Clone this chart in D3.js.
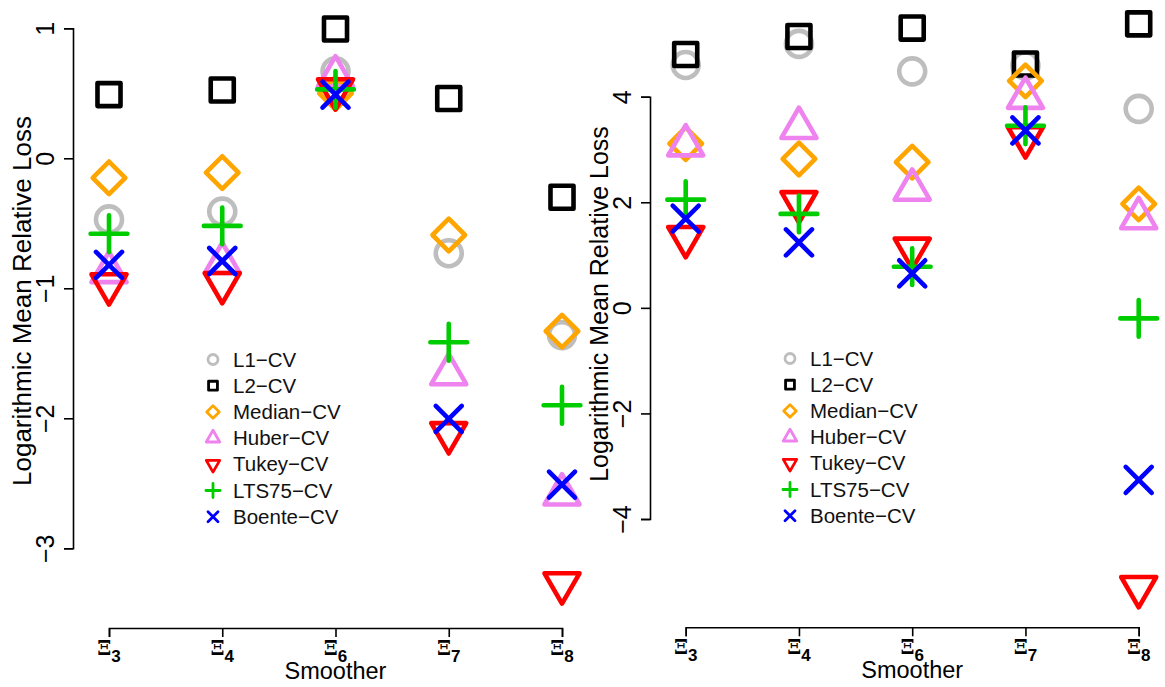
<!DOCTYPE html>
<html>
<head>
<meta charset="utf-8">
<script src="https://cdn.jsdelivr.net/npm/d3@7"></script>
<style>
  body { margin: 0; background: #fff; }
  svg { display: block; font-family: "Liberation Sans", Arial, Helvetica, sans-serif; }
</style>
</head>
<body>
<svg id="chart" width="1165" height="687"></svg>
<script>
// smoothers on the x axis (subscript of Xi)
var smoothers = ["3", "4", "6", "7", "8"];

// methods, drawn in this order
var methods = ["L1\u2212CV", "L2\u2212CV", "Median\u2212CV", "Huber\u2212CV", "Tukey\u2212CV", "LTS75\u2212CV", "Boente\u2212CV"];
var shapes  = ["circle", "square", "diamond", "triangle", "triangleDown", "plus", "cross"];
var colors  = ["#bebebe", "#000000", "#ffa500", "#ee82ee", "#ff0000", "#00cd00", "#0000ff"];

// left panel values, one array per method
var leftL1     = [-0.47, -0.41, 0.67, -0.73, -1.36];
var leftL2     = [0.49, 0.525, 0.995, 0.46, -0.30];
var leftMedian = [-0.15, -0.11, 0.50, -0.59, -1.33];
var leftHuber  = [-0.875, -0.805, 0.63, -1.66, -2.585];
var leftTukey  = [-0.97, -0.96, 0.53, -2.115, -3.27];
var leftLTS    = [-0.58, -0.52, 0.53, -1.415, -1.90];
var leftBoente = [-0.82, -0.79, 0.49, -2.005, -2.51];
var leftTicks  = [1, 0, -1, -2, -3];

// right panel values
var rightL1     = [4.60, 5.00, 4.48, 4.59, 3.77];
var rightL2     = [4.80, 5.14, 5.30, 4.62, 5.38];
var rightMedian = [3.11, 2.82, 2.76, 4.30, 1.97];
var rightHuber  = [3.08, 3.41, 2.24, 3.98, 1.70];
var rightTukey  = [1.34, 2.00, 1.12, 3.23, -5.29];
var rightLTS    = [2.05, 1.78, 0.78, 3.45, -0.20];
var rightBoente = [1.69, 1.24, 0.655, 3.36, -3.26];
var rightTicks  = [4, 2, 0, -2, -4];

var svg = d3.select("#chart");

// R-like point symbols, R = radius of the circle
function symbolPath(type, R) {
  var p = d3.path();
  if (type === "square") {
    var s = 0.886 * R;
    p.rect(-s, -s, 2 * s, 2 * s);
  } else if (type === "diamond") {
    var d = 1.2533 * R;
    p.moveTo(0, -d); p.lineTo(d, 0); p.lineTo(0, d); p.lineTo(-d, 0); p.closePath();
  } else if (type === "triangle" || type === "triangleDown") {
    var r = 1.5551 * R, xc = 1.3468 * R, yc = 0.7776 * R,
        k = type === "triangle" ? 1 : -1;
    p.moveTo(0, -k * r); p.lineTo(xc, k * yc); p.lineTo(-xc, k * yc); p.closePath();
  } else if (type === "plus") {
    var a = 1.4142 * R;
    p.moveTo(-a, 0); p.lineTo(a, 0); p.moveTo(0, -a); p.lineTo(0, a);
  } else if (type === "cross") {
    p.moveTo(-R, -R); p.lineTo(R, R); p.moveTo(-R, R); p.lineTo(R, -R);
  } else {
    p.arc(0, 0, R, 0, 2 * Math.PI);
  }
  return p.toString();
}

function drawPanel(opt) {
  var g = svg.append("g");

  var x = d3.scalePoint().domain(smoothers).range(opt.xRange);
  var y = d3.scaleLinear().domain(opt.yDomain).range(opt.yRange);

  // y axis
  var yAxis = g.append("g")
      .attr("transform", "translate(" + opt.axisX + ",0)")
      .call(d3.axisLeft(y).tickValues(opt.ticks).tickSizeOuter(0).tickSize(9)
              .tickFormat(function(d) { return d < 0 ? "\u2212" + (-d) : d; }));
  yAxis.select(".domain").attr("stroke", "#000").attr("stroke-width", 1.6);
  yAxis.selectAll(".tick line").attr("stroke", "#000").attr("stroke-width", 1.6);
  yAxis.selectAll(".tick text")
      .attr("transform", "rotate(-90)")
      .attr("x", 0).attr("y", -19).attr("dy", 0)
      .attr("text-anchor", "middle")
      .attr("font-size", 25)
      .attr("fill", "#000");

  // x axis
  var xAxis = g.append("g")
      .attr("transform", "translate(0," + opt.axisY + ")")
      .call(d3.axisBottom(x).tickSizeOuter(0).tickSize(9).tickFormat(""));
  xAxis.select(".domain").attr("stroke", "#000").attr("stroke-width", 1.6);
  xAxis.selectAll(".tick line").attr("stroke", "#000").attr("stroke-width", 1.6);

  // Xi labels with subscripts
  smoothers.forEach(function(s) {
    var t = g.append("text")
        .attr("x", x(s))
        .attr("y", opt.axisY + 27)
        .attr("text-anchor", "middle")
        .attr("font-weight", "bold")
        .attr("fill", "#000");
    t.append("tspan").attr("font-family", "'DejaVu Serif', serif").attr("font-size", 20).text("\u039E");
    t.append("tspan").attr("font-size", 17).attr("dy", 7).text(s);
  });

  // axis titles
  g.append("text")
      .attr("x", x("6"))
      .attr("y", opt.axisY + 51)
      .attr("text-anchor", "middle")
      .attr("font-size", 23.5)
      .text("Smoother");
  g.append("text")
      .attr("transform", "translate(" + (opt.axisX - 42) + "," + opt.titleY + ") rotate(-90)")
      .attr("text-anchor", "middle")
      .attr("font-size", opt.titleSize)
      .text("Logarithmic Mean Relative Loss");

  // points
  opt.series.forEach(function(vals, i) {
    g.append("g").selectAll("path")
      .data(vals)
      .join("path")
        .attr("transform", function(d, j) { return "translate(" + x(smoothers[j]) + "," + y(d) + ")"; })
        .attr("d", symbolPath(shapes[i], 13))
        .attr("fill", "none")
        .attr("stroke", colors[i])
        .attr("stroke-width", 4.6)
        .attr("stroke-linejoin", "round")
        .attr("stroke-linecap", "round");
  });

  // legend
  var lg = g.append("g").attr("transform", "translate(" + opt.legend[0] + "," + opt.legend[1] + ")");
  methods.forEach(function(m, i) {
    lg.append("path")
        .attr("transform", "translate(0," + (i * 26.2) + ")")
        .attr("d", symbolPath(shapes[i], 5))
        .attr("fill", "none")
        .attr("stroke", colors[i])
        .attr("stroke-width", 2.8)
        .attr("stroke-linejoin", "round")
        .attr("stroke-linecap", "round");
    lg.append("text")
        .attr("x", 20)
        .attr("y", i * 26.2 + 7)
        .attr("font-size", 20.5)
        .attr("fill", "#111")
        .text(m);
  });
}

drawPanel({
  xRange: [109, 562], axisX: 73, axisY: 628, titleY: 301, titleSize: 26,
  yDomain: [-3, 1], yRange: [548.3, 28.3], ticks: leftTicks,
  series: [leftL1, leftL2, leftMedian, leftHuber, leftTukey, leftLTS, leftBoente],
  legend: [213, 359.5]
});

drawPanel({
  xRange: [685.7, 1138.7], axisX: 650, axisY: 627.3, titleY: 304, titleSize: 25,
  yDomain: [-4, 4], yRange: [519, 96.7], ticks: rightTicks,
  series: [rightL1, rightL2, rightMedian, rightHuber, rightTukey, rightLTS, rightBoente],
  legend: [790, 358.5]
});
</script>
</body>
</html>
